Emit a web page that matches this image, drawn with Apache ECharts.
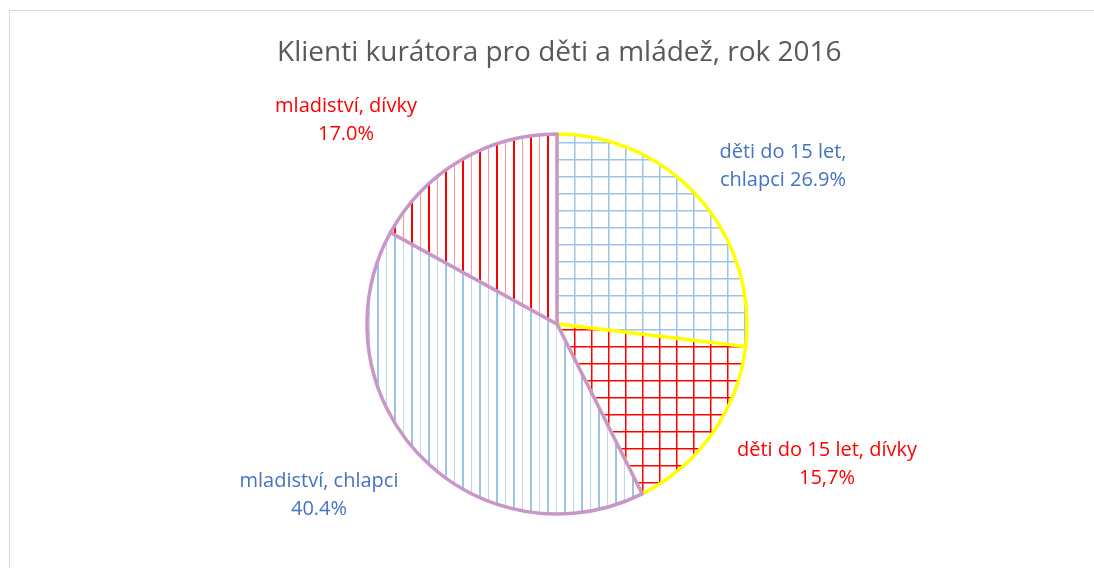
<!DOCTYPE html>
<html>
<head>
<meta charset="utf-8">
<script src="https://cdn.jsdelivr.net/npm/echarts@6/dist/echarts.min.js"></script>
<style>
  html, body { margin: 0; padding: 0; background: #fff; }
  #main { width: 1094px; height: 568px; }
  .frame { position: absolute; left: 9px; top: 10px; width: 1100px; height: 600px; border: 1px solid #d9d9d9; box-sizing: border-box; pointer-events: none; }
</style>
</head>
<body>
<div class="frame"></div>
<div id="main"></div>
<script>
const categories = ['děti do 15 let, chlapci', 'děti do 15 let, dívky', 'mladiství, chlapci', 'mladiství, dívky']
const shares = [26.9, 15.7, 40.4, 17.0]
const labelTexts = ['děti do 15 let,\nchlapci 26.9%', 'děti do 15 let, dívky\n15,7%', 'mladiství, chlapci\n40.4%', 'mladiství, dívky\n17.0%']

const BLUE = '#9dc3e6'
const RED = '#ff0000'

// mřížka (Excel "velká mřížka")
function gridPattern(color) {
  const c = document.createElement('canvas')
  c.width = 17
  c.height = 17
  const ctx = c.getContext('2d')
  ctx.fillStyle = '#fff'
  ctx.fillRect(0, 0, 17, 17)
  ctx.fillStyle = color
  ctx.fillRect(13, 0, 1.5, 17)
  ctx.fillRect(0, 6, 17, 1.5)
  return { image: c, repeat: 'repeat' }
}

// svislé čáry, střídavě silná a slabá
function stripePattern(color, light) {
  const c = document.createElement('canvas')
  c.width = 17
  c.height = 17
  const ctx = c.getContext('2d')
  ctx.fillStyle = '#fff'
  ctx.fillRect(0, 0, 17, 17)
  ctx.fillStyle = color
  ctx.fillRect(3, 0, 2, 17)
  ctx.fillStyle = light
  ctx.fillRect(12, 0, 1, 17)
  return { image: c, repeat: 'repeat' }
}

const fills = [gridPattern(BLUE), gridPattern(RED), stripePattern(BLUE, '#bdd7ee'), stripePattern(RED, '#ff9a9a')]
const borders = ['#ffff00', '#ffff00', '#c896c8', '#c896c8']
const labelColors = ['#4472c4', '#ff0000', '#4472c4', '#ff0000']
// středy popisků jako v Excelu
const labelPos = [[783, 166], [827, 464], [319, 495], [346, 120]]

const chart = echarts.init(document.getElementById('main'))
chart.setOption({
  animation: false,
  title: {
    text: 'Klienti kurátora pro děti a mládež, rok 2016',
    left: 272,
    top: 34,
    textStyle: { color: '#595959', fontSize: 28, fontWeight: 'normal', fontFamily: 'Open Sans' }
  },
  series: [{
    type: 'pie',
    center: [557, 324],
    radius: 190,
    startAngle: 90,
    clockwise: true,
    label: {
      show: true,
      position: 'outside',
      fontFamily: 'Open Sans',
      fontSize: 20,
      lineHeight: 28,
      align: 'center'
    },
    labelLine: { show: false },
    labelLayout: (params) => ({
      x: labelPos[params.dataIndex][0],
      y: labelPos[params.dataIndex][1],
      align: 'center',
      verticalAlign: 'middle'
    }),
    data: categories.map((name, i) => ({
      name: name,
      value: shares[i],
      itemStyle: { color: fills[i], borderColor: borders[i], borderWidth: 3.5 },
      label: { formatter: labelTexts[i], color: labelColors[i] }
    }))
  }]
})
</script>
</body>
</html>
